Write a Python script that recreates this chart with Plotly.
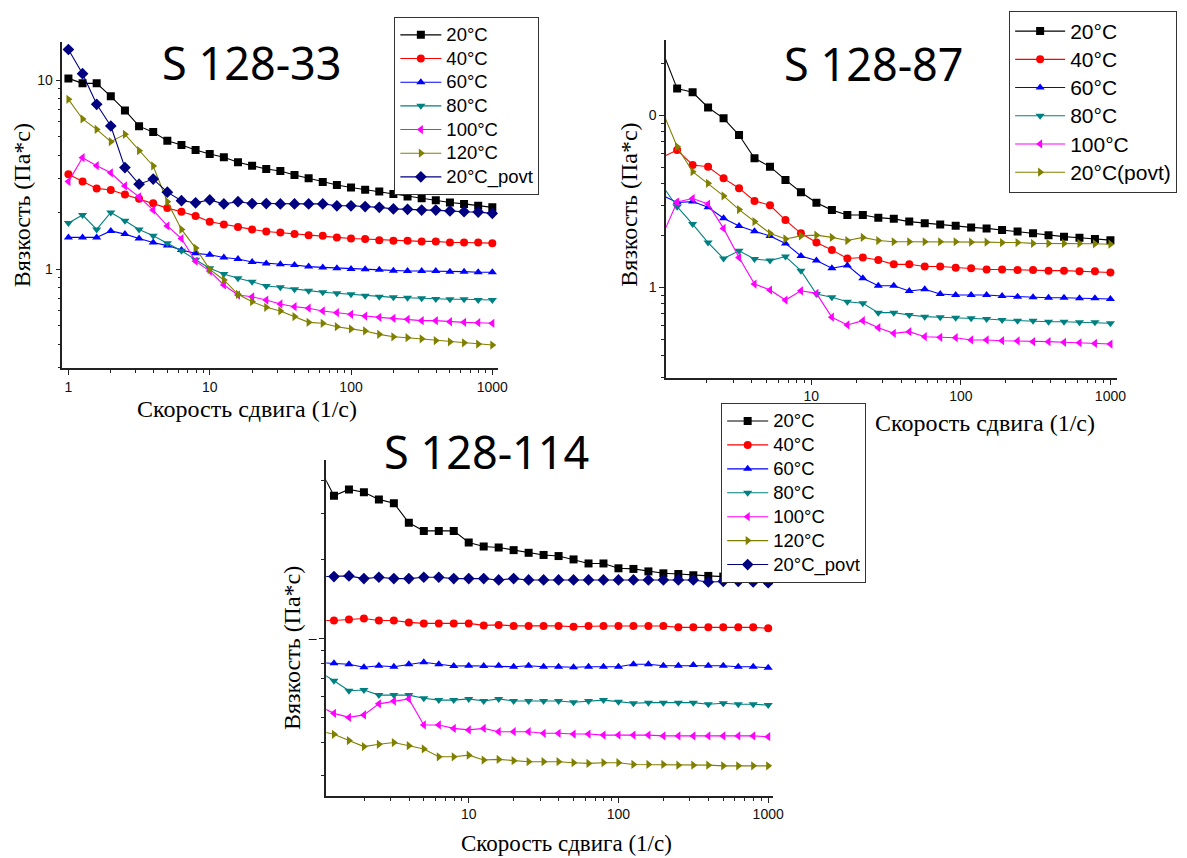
import plotly.graph_objects as go

W, H = 1187, 858

# ---------------- data ----------------
# shear rate (1/s): 10 points per decade (S 128-33, S 128-114)
X31 = [1, 1.259, 1.585, 1.995, 2.512, 3.162, 3.981, 5.012, 6.310, 7.943,
       10, 12.59, 15.85, 19.95, 25.12, 31.62, 39.81, 50.12, 63.10, 79.43,
       100, 125.9, 158.5, 199.5, 251.2, 316.2, 398.1, 501.2, 631.0, 794.3, 1000]
# shear rate (1/s): 30 points from 1 to 1000 (S 128-87)
X30 = [1, 1.269, 1.610, 2.043, 2.593, 3.290, 4.175, 5.298, 6.723, 8.532,
       10.83, 13.74, 17.43, 22.12, 28.07, 35.62, 45.20, 57.36, 72.79, 92.37,
       117.2, 148.7, 188.7, 239.5, 303.9, 385.7, 489.4, 621.0, 788.0, 1000]

# S 128-33
s33_20 = [10.2, 9.6, 9.6, 8.2, 6.9, 5.7, 5.3, 4.77, 4.53, 4.26, 4.06, 3.90, 3.67, 3.52, 3.38,
          3.30, 3.14, 3.02, 2.89, 2.78, 2.70, 2.63, 2.57, 2.49, 2.42, 2.37, 2.31, 2.25, 2.21, 2.16, 2.12]
s33_40 = [3.17, 2.90, 2.67, 2.62, 2.48, 2.35, 2.23, 2.10, 2.01, 1.91, 1.78, 1.72, 1.67, 1.62, 1.58,
          1.56, 1.53, 1.51, 1.50, 1.47, 1.45, 1.44, 1.42, 1.41, 1.41, 1.40, 1.40, 1.38, 1.38, 1.38, 1.37]
s33_60 = [1.47, 1.47, 1.47, 1.59, 1.53, 1.45, 1.38, 1.33, 1.26, 1.21, 1.19, 1.15, 1.13, 1.09, 1.07,
          1.06, 1.05, 1.03, 1.02, 1.01, 1.00, 0.998, 0.99, 0.98, 0.976, 0.976, 0.976, 0.968, 0.968, 0.961, 0.961]
s33_80 = [1.75, 1.93, 1.62, 1.99, 1.80, 1.62, 1.50, 1.37, 1.25, 1.12, 1.01, 0.94, 0.893, 0.857, 0.813,
          0.800, 0.781, 0.768, 0.753, 0.744, 0.735, 0.722, 0.713, 0.708, 0.705, 0.700, 0.694, 0.692, 0.692, 0.686, 0.686]
s33_100 = [2.90, 3.88, 3.52, 3.23, 2.75, 2.41, 2.05, 1.69, 1.45, 1.10, 0.975, 0.823, 0.728, 0.713, 0.685,
           0.653, 0.632, 0.620, 0.600, 0.587, 0.576, 0.564, 0.555, 0.548, 0.542, 0.533, 0.533, 0.526, 0.522, 0.520, 0.516]
s33_120 = [7.9, 6.22, 5.48, 4.72, 5.16, 4.23, 3.51, 2.27, 1.62, 1.29, 0.996, 0.875, 0.735, 0.671, 0.627,
           0.600, 0.560, 0.522, 0.516, 0.495, 0.482, 0.470, 0.451, 0.438, 0.433, 0.427, 0.418, 0.412, 0.407, 0.401, 0.396]
s33_20p = [14.5, 10.8, 7.44, 5.71, 3.44, 2.81, 2.99, 2.55, 2.30, 2.24, 2.32, 2.21, 2.27, 2.22, 2.22,
           2.21, 2.21, 2.21, 2.21, 2.16, 2.16, 2.14, 2.12, 2.08, 2.07, 2.05, 2.05, 2.03, 2.01, 2.00, 1.97]

# S 128-87
s87_20 = [24.2, 14.3, 13.6, 11.1, 9.6, 7.68, 5.62, 5.03, 4.21, 3.57, 3.10, 2.81, 2.63, 2.63, 2.54,
          2.50, 2.41, 2.36, 2.32, 2.28, 2.23, 2.20, 2.15, 2.11, 2.06, 2.01, 1.97, 1.94, 1.91, 1.88]
s87_40 = [5.69, 6.28, 5.14, 5.02, 4.30, 3.77, 3.18, 3.00, 2.46, 2.06, 1.82, 1.65, 1.47, 1.49, 1.44,
          1.36, 1.36, 1.32, 1.32, 1.30, 1.29, 1.27, 1.27, 1.26, 1.26, 1.25, 1.25, 1.24, 1.24, 1.22]
s87_60 = [3.44, 3.11, 3.15, 2.92, 2.52, 2.27, 2.12, 1.99, 1.80, 1.52, 1.43, 1.29, 1.34, 1.13, 1.02,
          1.02, 0.952, 0.974, 0.914, 0.902, 0.902, 0.902, 0.890, 0.881, 0.875, 0.870, 0.870, 0.864, 0.864, 0.855]
s87_80 = [3.95, 2.94, 2.33, 1.82, 1.47, 1.63, 1.46, 1.43, 1.51, 1.25, 0.914, 0.875, 0.824, 0.807, 0.712,
          0.712, 0.690, 0.675, 0.670, 0.666, 0.660, 0.654, 0.646, 0.640, 0.640, 0.631, 0.631, 0.626, 0.626, 0.618]
s87_100 = [1.96, 3.13, 3.28, 3.05, 2.20, 1.49, 1.045, 0.964, 0.843, 0.954, 0.922, 0.670, 0.604, 0.640, 0.582,
           0.540, 0.552, 0.516, 0.512, 0.509, 0.494, 0.494, 0.489, 0.488, 0.483, 0.483, 0.479, 0.476, 0.472, 0.468]
s87_20p = [10.8, 6.57, 4.70, 4.02, 3.40, 2.83, 2.41, 2.06, 1.91, 1.99, 2.01, 1.95, 1.87, 1.95, 1.87,
           1.84, 1.84, 1.84, 1.84, 1.84, 1.83, 1.83, 1.82, 1.82, 1.80, 1.80, 1.80, 1.80, 1.79, 1.78]

# S 128-114
s114_20 = [4.51, 3.50, 3.70, 3.61, 3.39, 3.28, 2.76, 2.57, 2.57, 2.57, 2.32, 2.24, 2.22, 2.17, 2.12,
           2.08, 2.06, 2.00, 1.93, 1.93, 1.85, 1.84, 1.80, 1.77, 1.76, 1.74, 1.73, 1.72, 1.69, 1.68, 1.66]
s114_40 = [1.17, 1.17, 1.18, 1.19, 1.17, 1.17, 1.15, 1.14, 1.14, 1.14, 1.14, 1.12, 1.125, 1.115, 1.115,
           1.115, 1.115, 1.107, 1.114, 1.114, 1.114, 1.114, 1.114, 1.114, 1.101, 1.101, 1.101, 1.101, 1.101, 1.101, 1.092]
s114_60 = [0.807, 0.803, 0.796, 0.775, 0.786, 0.779, 0.796, 0.810, 0.796, 0.784, 0.786, 0.784, 0.786, 0.779, 0.786,
           0.779, 0.779, 0.775, 0.779, 0.779, 0.779, 0.796, 0.796, 0.786, 0.786, 0.791, 0.786, 0.786, 0.779, 0.779, 0.772]
s114_80 = [0.746, 0.689, 0.631, 0.635, 0.607, 0.607, 0.607, 0.590, 0.581, 0.581, 0.587, 0.576, 0.587, 0.576, 0.576,
           0.576, 0.576, 0.570, 0.576, 0.581, 0.573, 0.565, 0.568, 0.568, 0.568, 0.568, 0.560, 0.565, 0.560, 0.560, 0.556]
s114_100 = [0.552, 0.517, 0.499, 0.510, 0.562, 0.576, 0.587, 0.467, 0.467, 0.453, 0.447, 0.453, 0.440, 0.440, 0.440,
            0.434, 0.434, 0.431, 0.431, 0.427, 0.427, 0.427, 0.427, 0.424, 0.424, 0.424, 0.424, 0.424, 0.424, 0.424, 0.421]
s114_120 = [0.443, 0.430, 0.407, 0.386, 0.394, 0.400, 0.389, 0.378, 0.353, 0.353, 0.358, 0.343, 0.345, 0.341, 0.338,
            0.338, 0.338, 0.335, 0.333, 0.335, 0.335, 0.330, 0.330, 0.330, 0.328, 0.328, 0.328, 0.326, 0.326, 0.326, 0.326]
s114_20p = [1.72, 1.72, 1.73, 1.69, 1.71, 1.69, 1.69, 1.71, 1.71, 1.69, 1.69, 1.69, 1.67, 1.69, 1.67,
            1.67, 1.67, 1.67, 1.67, 1.67, 1.67, 1.67, 1.67, 1.67, 1.67, 1.67, 1.64, 1.65, 1.65, 1.64, 1.63]

names7 = ["20°C", "40°C", "60°C", "80°C", "100°C", "120°C", "20°C_povt"]
names6 = ["20°C", "40°C", "60°C", "80°C", "100°C", "20°C(povt)"]
colors7 = ["#000000", "#FF0000", "#0000FF", "#008080", "#FF00FF", "#808000", "#000080"]
colors6 = ["#000000", "#FF0000", "#0000FF", "#008080", "#FF00FF", "#808000"]
symbols7 = ["square", "circle", "triangle-up", "triangle-down", "triangle-left", "triangle-right", "diamond"]
symbols6 = ["square", "circle", "triangle-up", "triangle-down", "triangle-left", "triangle-right"]

panel1 = [s33_20, s33_40, s33_60, s33_80, s33_100, s33_120, s33_20p]
panel2 = [s87_20, s87_40, s87_60, s87_80, s87_100, s87_20p]
panel3 = [s114_20, s114_40, s114_60, s114_80, s114_100, s114_120, s114_20p]

# ---------------- figure ----------------
fig = go.Figure()


def add_panel(xs, series, names, colors, symbols, xa, ya, leg, label_px):
    for ys, nm, c, s in zip(series, names, colors, symbols):
        msize = 9 if s == "diamond" else 8
        fig.add_trace(go.Scatter(
            x=xs, y=ys, mode="lines+markers",
            name='<span style="font-size:%spx">%s</span>' % (label_px, nm),
            line=dict(color=c, width=1.1),
            marker=dict(symbol=s, size=msize, color=c, line=dict(width=0)),
            xaxis=xa, yaxis=ya, legend=leg, showlegend=True))


add_panel(X31, panel1, names7, colors7, symbols7, "x", "y", "legend", 18.5)
add_panel(X30, panel2, names6, colors6, symbols6, "x2", "y2", "legend2", 21)
add_panel(X31, panel3, names7, colors7, symbols7, "x3", "y3", "legend3", 18.5)


def px(x):
    return x / W


def py(y):
    return 1 - y / H


minor_x = [2, 3, 4, 5, 6, 7, 8, 9, 20, 30, 40, 50, 60, 70, 80, 90,
           200, 300, 400, 500, 600, 700, 800, 900]
minor_y = [0.3, 0.4, 0.5, 0.6, 0.7, 0.8, 0.9, 2, 3, 4, 5, 6, 7, 8, 9, 20]

tickfont = dict(family="Liberation Sans, Arial", size=14, color="#111")


def xaxis_cfg(dom, rng, yanchor, tv, tt):
    return dict(type="log", domain=dom, range=rng, anchor=yanchor,
                showline=True, linecolor="#222", linewidth=1.6, mirror=False,
                ticks="outside", ticklen=5, tickwidth=1.2, tickcolor="#222",
                tickmode="array", tickvals=tv, ticktext=tt, tickfont=tickfont,
                minor=dict(tickmode="array", tickvals=minor_x, ticks="outside",
                           ticklen=3, tickwidth=1, tickcolor="#222"),
                showgrid=False, zeroline=False)


def yaxis_cfg(dom, rng, xanchor, tv, tt):
    return dict(type="log", domain=dom, range=rng, anchor=xanchor,
                showline=True, linecolor="#222", linewidth=1.6, mirror=False,
                ticks="outside", ticklen=5, tickwidth=1.2, tickcolor="#222",
                tickmode="array", tickvals=tv, ticktext=tt, tickfont=tickfont,
                minor=dict(tickmode="array", tickvals=minor_y, ticks="outside",
                           ticklen=3, tickwidth=1, tickcolor="#222"),
                showgrid=False, zeroline=False)


# panel pixel boxes (left, top, right, bottom)
b1 = (63, 42, 502, 368)
b2 = (671.7, 40, 1126.7, 377.7)
b3 = (329, 460, 780, 795.7)


def legend_cfg(left, top, size, itemwidth):
    return dict(x=px(left), y=py(top), xanchor="left", yanchor="top",
                bgcolor="white", bordercolor="#333", borderwidth=1,
                font=dict(family="Liberation Sans, Arial", size=size, color="black"),
                itemsizing="trace", tracegroupgap=0, itemwidth=itemwidth)


fig.update_layout(
    width=W, height=H, autosize=False,
    margin=dict(l=0, r=0, t=0, b=0, pad=0),
    paper_bgcolor="white", plot_bgcolor="white",
    showlegend=True,
    xaxis=xaxis_cfg([px(b1[0]), px(b1[2])], [-0.0421, 3.0386], "y",
                    [1, 10, 100, 1000], ["1", "10", "100", "1000"]),
    yaxis=yaxis_cfg([py(b1[3]), py(b1[1])], [-0.5238, 1.2011], "x",
                    [1, 10], ["1", "10"]),
    xaxis2=xaxis_cfg([px(b2[0]), px(b2[2])], [0.0292, 3.0454], "y2",
                     [10, 100, 1000], ["10", "100", "1000"]),
    yaxis2=yaxis_cfg([py(b2[3]), py(b2[1])], [-0.5256, 1.4378], "x2",
                     [1, 10], ["1", "0"]),
    xaxis3=xaxis_cfg([px(b3[0]), px(b3[2])], [0.0483, 3.035], "y3",
                     [10, 100, 1000], ["10", "100", "1000"]),
    yaxis3=yaxis_cfg([py(b3[3]), py(b3[1])], [-0.6008, 0.6805], "x3",
                     [1], ["–"]),
    legend=legend_cfg(397.7, 17, 15.9, 41),
    legend2=legend_cfg(1017.7, 11, 19.4, 50),
    legend3=legend_cfg(727.3, 403, 16.1, 41),
)

serif = dict(family="Liberation Serif, Times New Roman", size=24, color="black")
serif3 = dict(family="Liberation Serif, Times New Roman", size=23, color="black")
title_font = dict(family="Noto Sans, Open Sans", size=45, color="black")

annots = [
    # panel titles
    dict(text="S 128-33", x=px(254), y=py(62.5), font=title_font),
    dict(text="S 128-87", x=px(881.7), y=py(63), font=title_font),
    dict(text="S 128-114", x=px(490.8), y=py(451.7), font=title_font),
    # axis titles
    dict(text="Вязкость (Па*с)", x=px(23), y=py(205.5), textangle=-90, font=serif),
    dict(text="Скорость сдвига (1/с)", x=px(249), y=py(409), font=serif),
    dict(text="Вязкость (Па*с)", x=px(634), y=py(205), textangle=-90, font=serif),
    dict(text="Скорость сдвига (1/с)", x=px(993), y=py(423), font=serif),
    dict(text="Вязкость (Па*с)", x=px(294), y=py(648.5), textangle=-90, font=serif),
    dict(text="Скорость сдвига (1/с)", x=px(571), y=py(843), font=serif3),
]
for a in annots:
    a.update(xref="paper", yref="paper", xanchor="center", yanchor="middle",
             showarrow=False)
fig.update_layout(annotations=annots)

fig.write_html("out.html")
